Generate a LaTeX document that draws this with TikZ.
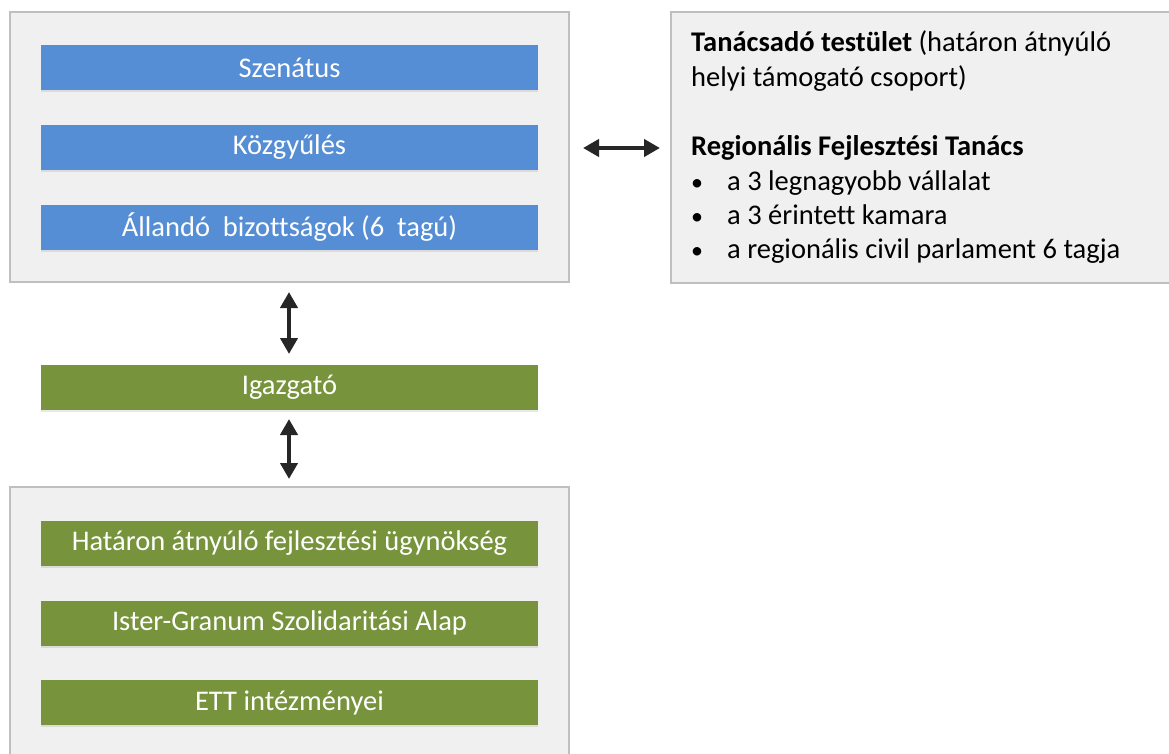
\documentclass[tikz,border=0pt]{standalone}
\usepackage{fontspec}
\setmainfont[Ligatures={NoCommon}]{Carlito}
\usetikzlibrary{arrows.meta,shadows}
\definecolor{barblue}{HTML}{558ED5}
\definecolor{bargreen}{HTML}{77933C}
\definecolor{panelfill}{HTML}{F0F0F0}
\definecolor{panelline}{HTML}{BFBFBF}
\definecolor{arrowcol}{HTML}{262626}
\newcommand{\bul}{\makebox[36pt][l]{\fontsize{24}{28}\selectfont•}}
\begin{document}
\begin{tikzpicture}[x=1pt,y=-1pt,
  panel/.style={draw=panelline,fill=panelfill,line width=2.5pt},
  bar/.style={fill=#1,draw=none,minimum width=497pt,minimum height=45pt,inner sep=0pt,
    text=white,font=\fontsize{28.5}{32}\selectfont,
    drop shadow={opacity=0.18,shadow xshift=0pt,shadow yshift=-2pt}},
  rtext/.style={anchor=base west,inner sep=0pt,font=\fontsize{28.5}{32}\selectfont},
  dblarrow/.style={{Triangle[length=16pt,width=17pt]}-{Triangle[length=16pt,width=17pt]},line width=4pt,draw=arrowcol}
]
\useasboundingbox (0,0) rectangle (1169,754);
\fill[white] (0,0) rectangle (1169,754);
% panels
\draw[panel] (10,12) rectangle (569,282);
\draw[panel] (671,12) rectangle (1180,283);
\draw[panel] (10,487) rectangle (569,770);
% blue bars
\node[bar=barblue] (sz) at (289.5,67.5) {Szenátus};
\node[bar=barblue] (kg) at (289.5,147.5) {Közgyűlés};
\node[bar=barblue] (ab) at (289.5,227.5) {Állandó\ \ bizottságok (6\ \ tagú)};
% director
\node[bar=bargreen] (ig) at (289.5,387) {Igazgató};
% green bars
\node[bar=bargreen] (hu) at (289.5,543.5) {Határon átnyúló fejlesztési ügynökség};
\node[bar=bargreen] (is) at (289.5,623) {Ister-Granum Szolidaritási Alap};
\node[bar=bargreen] (et) at (289.5,702.5) {ETT intézményei};
% right text
\node[rtext] (r1) at (691,52) {\textbf{Tanácsadó testület} (határon átnyúló};
\node[rtext] (r2) at (691,86.5) {helyi támogató csoport)};
\node[rtext] (r3) at (691,156) {\textbf{Regionális Fejlesztési Tanács}};
\node[rtext] (r4) at (691,190.5) {\bul a 3 legnagyobb vállalat};
\node[rtext] (r5) at (691,224.5) {\bul a 3 érintett kamara};
\node[rtext] (r6) at (691,258.5) {\bul a regionális civil parlament 6 tagja};
% arrows
\coordinate (hl) at (583,148);
\coordinate (hr) at (660,148);
\draw[dblarrow] (hl) -- (hr);
\coordinate (v1t) at (289,292);
\coordinate (v1b) at (289,354);
\draw[dblarrow] (v1t) -- (v1b);
\coordinate (v2t) at (289,419);
\coordinate (v2b) at (289,479);
\draw[dblarrow] (v2t) -- (v2b);
\end{tikzpicture}
\end{document}
